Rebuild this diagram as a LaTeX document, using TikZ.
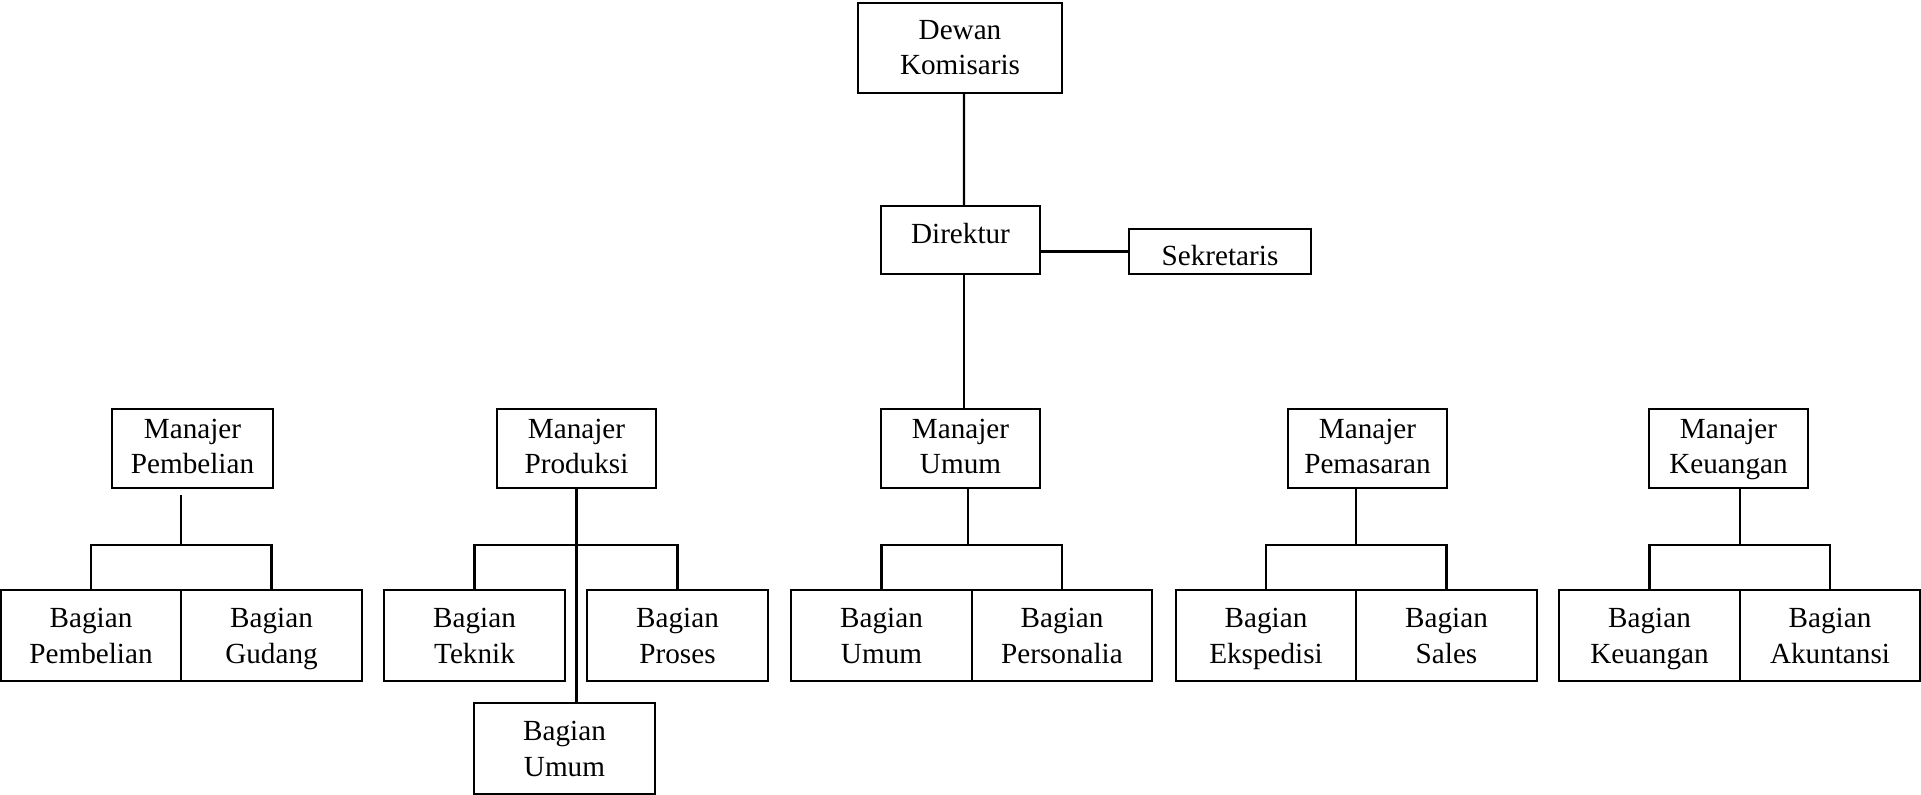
\documentclass[tikz,border=0pt]{standalone}
\usepackage{fontspec}
\setmainfont{Liberation Serif}
\usepackage{tikz}
\tikzset{
	box/.style={draw, line width=0.6pt, inner sep=0pt, align=center, font=\fontsize{8.3}{10}\selectfont},
	mgr/.style={box, minimum width=1.59cm, minimum height=0.79cm,
		execute at begin node={\rule{0pt}{16.1pt}}, execute at end node={\rule[-2pt]{0pt}{2pt}}},
	bag/.style={box, minimum width=1.81cm, minimum height=0.91cm,
		execute at begin node={\rule{0pt}{17.7pt}}, execute at end node={\rule[-2pt]{0pt}{2pt}}},
	link/.style={line width=0.6pt}
}

\begin{document}
\begin{tikzpicture}[x=0.01cm, y=-0.01cm]
		%%%%% START %%%%%
		\useasboundingbox (0, 0) rectangle (1921, 795);
		
		\node[box, minimum width=2.04cm, minimum height=0.90cm] (dewan) at (960, 48) {Dewan\\Komisaris};
		\node[box, minimum width=1.59cm, minimum height=0.68cm, text height=5.6pt, text depth=0pt] (direktur) at (960.5, 240) {\raisebox{1.7pt}{Direktur}};
		\node[box, minimum width=1.82cm, minimum height=0.45cm, text height=5.6pt, text depth=0pt] (sek) at (1220, 251.5) {\raisebox{-1.2pt}{Sekretaris}};
		
		\node[mgr, minimum width=1.61cm] (mp) at (192.5, 448.5) {Manajer\\Pembelian};
		\node[mgr] (mpr) at (576.5, 448.5) {Manajer\\Produksi};
		\node[mgr] (mu) at (960.5, 448.5) {Manajer\\Umum};
		\node[mgr] (mpm) at (1367.5, 448.5) {Manajer\\Pemasaran};
		\node[mgr] (mk) at (1728.5, 448.5) {Manajer\\Keuangan};
		
		\node[bag, minimum width=1.80cm] (bp) at (91, 635.5) {Bagian\\Pembelian};
		\node[bag] (bg) at (271.5, 635.5) {Bagian\\Gudang};
		\node[bag] (bt) at (474.5, 635.5) {Bagian\\Teknik};
		\node[bag] (bpr) at (677.5, 635.5) {Bagian\\Proses};
		\node[bag] (bum) at (564.5, 748.5) {Bagian\\Umum};
		\node[bag] (bu) at (881.5, 635.5) {Bagian\\Umum};
		\node[bag, minimum width=1.80cm] (bpe) at (1062, 635.5) {Bagian\\Personalia};
		\node[bag, minimum width=1.80cm] (be) at (1266, 635.5) {Bagian\\Ekspedisi};
		\node[bag] (bs) at (1446.5, 635.5) {Bagian\\Sales};
		\node[bag] (bk) at (1649.5, 635.5) {Bagian\\Keuangan};
		\node[bag, minimum width=1.80cm] (ba) at (1830, 635.5) {Bagian\\Akuntansi};
		
		\coordinate (jp) at (181, 545);
		\coordinate (jpr) at (576.5, 545);
		\coordinate (ju) at (968, 545);
		\coordinate (jpm) at (1356, 545);
		\coordinate (jk) at (1740, 545);
		
		\draw[link] ([xshift=0.04cm]dewan.south) -- ([xshift=0.035cm]direktur.north);
		\draw[link] (direktur.east |- sek.west) -- (sek.west);
		\draw[link] ([xshift=0.035cm]direktur.south) -- ([xshift=0.035cm]mu.north);
		
		\draw[link, shorten <=0.06cm] (mp.south -| jp) -- (jp);
		\draw[link] (bp.north) |- (jp) -| (bg.north);
		
		\draw[link] (mpr.south) -- (mpr.south |- bum.north);
		\draw[link] (bt.north) |- (jpr) -| (bpr.north);
		
		\draw[link] (mu.south -| ju) -- (ju);
		\draw[link] (bu.north) |- (ju) -| (bpe.north);
		
		\draw[link] (mpm.south -| jpm) -- (jpm);
		\draw[link] (be.north) |- (jpm) -| (bs.north);
		
		\draw[link] (mk.south -| jk) -- (jk);
		\draw[link] (bk.north) |- (jk) -| (ba.north);
		%%%%% END %%%%%
\end{tikzpicture}
\end{document}
